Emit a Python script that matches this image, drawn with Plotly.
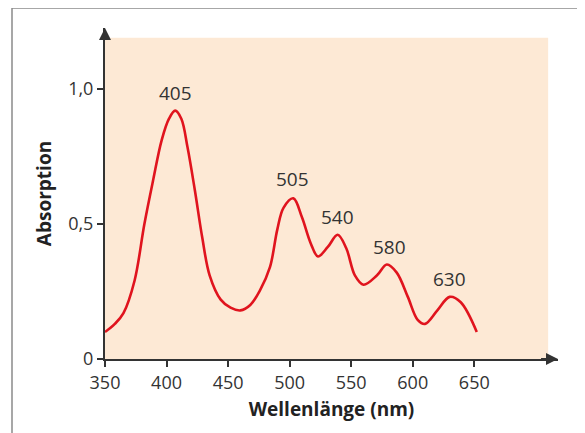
import plotly.graph_objects as go

# Spectrum
wavelength = [350, 358, 365, 374, 382, 389, 396, 402, 407, 412, 417, 423, 429, 435, 444, 452, 460,
              468, 476, 484, 490, 495, 503, 510, 517, 523, 531, 539, 546, 553, 560,
              571, 579, 587, 596, 604, 610, 620, 630, 639, 652]
absorption = [0.10, 0.13, 0.17, 0.29, 0.50, 0.66, 0.81, 0.89, 0.92, 0.89, 0.785, 0.625, 0.45, 0.31, 0.22, 0.19, 0.18,
              0.20, 0.255, 0.34, 0.48, 0.56, 0.595, 0.525, 0.43, 0.38, 0.415, 0.46, 0.41, 0.31, 0.275,
              0.31, 0.35, 0.32, 0.23, 0.145, 0.13, 0.18, 0.23, 0.21, 0.10]

peak_labels = ["405", "505", "540", "580", "630"]
peak_x = [407, 502, 539, 581, 630]
peak_y = [0.92, 0.60, 0.46, 0.35, 0.23]

x_tickvals = [350, 400, 450, 500, 550, 600, 650]
x_ticktext = ["350", "400", "450", "500", "550", "600", "650"]
y_tickvals = [0, 0.5, 1.0]
y_ticktext = ["0", "0,5", "1,0"]

x_range = [350, 718]
y_range = [0, 1.226]

fig = go.Figure()

fig.add_trace(go.Scatter(
    x=wavelength, y=absorption, mode="lines",
    line=dict(color="#E0141E", width=2.6, shape="spline", smoothing=1.0),
    hoverinfo="skip", showlegend=False,
))

# peach background
fig.add_shape(type="rect", xref="x", yref="y", x0=350, x1=710, y0=0, y1=1.19,
              fillcolor="#FDE9D5", line_width=0, layer="below")

# outer frame (left and top lines)
fig.add_shape(type="line", xref="paper", yref="paper", x0=-0.2053, x1=-0.2053, y0=1.0604, y1=-0.4,
              line=dict(color="#8a8a8a", width=1.5))
fig.add_shape(type="line", xref="paper", yref="paper", x0=-0.2053, x1=1.2, y0=1.0604, y1=1.0604,
              line=dict(color="#8a8a8a", width=1.5))

annotations = []
for lab, px, py in zip(peak_labels, peak_x, peak_y):
    annotations.append(dict(x=px, y=py, text=lab, showarrow=False, yanchor="middle",
                            yshift=18, font=dict(size=19, color="#333333", family="Open Sans")))

# axis arrowheads
annotations.append(dict(x=x_range[1], y=0, ax=x_range[1] - 15, ay=0, axref="x", ayref="y",
                        xref="x", yref="y", text="", showarrow=True, arrowhead=2,
                        arrowsize=1.2, arrowwidth=2, arrowcolor="#333333"))
annotations.append(dict(x=350, y=y_range[1], ax=350, ay=y_range[1] - 0.05, axref="x", ayref="y",
                        xref="x", yref="y", text="", showarrow=True, arrowhead=2,
                        arrowsize=1.2, arrowwidth=2, arrowcolor="#333333"))

fig.update_layout(
    width=585, height=433,
    margin=dict(l=97, r=35, t=20, b=82, autoexpand=False),
    paper_bgcolor="white", plot_bgcolor="white",
    font=dict(family="Open Sans", size=18, color="#333333"),
    annotations=annotations,
    showlegend=False,
)

fig.update_xaxes(
    range=x_range, showgrid=False, zeroline=False, automargin=False,
    showline=True, linecolor="#333333", linewidth=2,
    ticks="outside", ticklen=6, tickwidth=2, tickcolor="#333333",
    tickvals=x_tickvals, ticktext=x_ticktext,
    tickfont=dict(size=18, color="#333333"),
    title=dict(text="<b>Wellenlänge (nm)</b>", font=dict(size=19, color="#222222"), standoff=10),
)
fig.update_yaxes(
    range=y_range, showgrid=False, zeroline=False, automargin=False,
    showline=True, linecolor="#333333", linewidth=2,
    ticks="outside", ticklen=6, tickwidth=2, tickcolor="#333333",
    tickvals=y_tickvals, ticktext=y_ticktext,
    tickfont=dict(size=18, color="#333333"),
    title=dict(text="<b>Absorption</b>", font=dict(size=19, color="#222222"), standoff=12),
)

fig.write_html("out.html")
